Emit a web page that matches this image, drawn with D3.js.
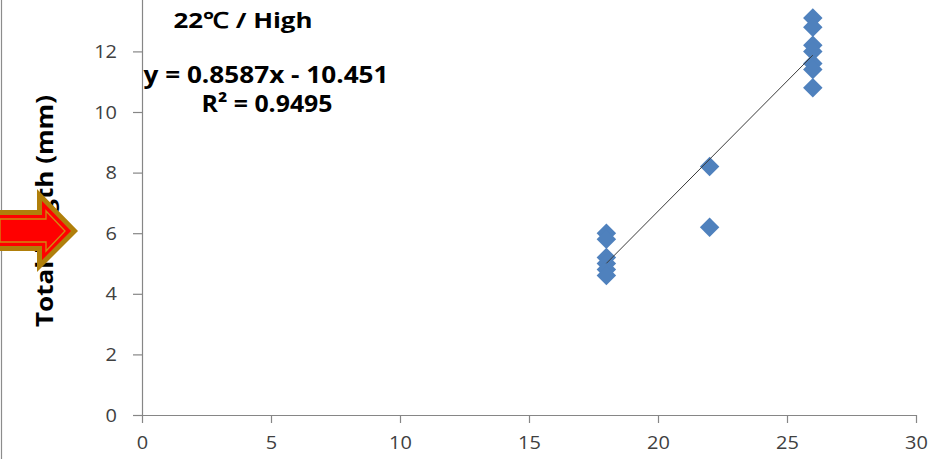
<!DOCTYPE html>
<html>
<head>
<meta charset="utf-8">
<script src="https://cdn.jsdelivr.net/npm/d3@7"></script>
<style>
  html, body { margin: 0; padding: 0; background: #fff; }
  svg { display: block; }
</style>
</head>
<body>
<svg id="chart" width="933" height="459"></svg>
<script>
// Rearing temperature (°C) and total length (mm) of each larva
const temps   = [18, 18, 18, 18, 18, 18, 22, 22, 26, 26, 26, 26, 26, 26, 26];
const lengths = [6.0, 5.8, 5.2, 5.0, 4.8, 4.6, 8.2, 6.2, 13.1, 12.8, 12.2, 12.0, 11.6, 11.4, 10.8];

// Linear trend line
const slope = 0.8587;
const intercept = -10.451;
const fitRange = [18, 26];

const xTicks = [0, 5, 10, 15, 20, 25, 30];
const yTicks = [0, 2, 4, 6, 8, 10, 12];

const titleText = "22℃ / High";
const eqText = "y = 0.8587x - 10.451";
const r2Text = "R² = 0.9495";
const yLabel = "Total length (mm)";

const svg = d3.select("#chart");
const W = 933, H = 459;

const x = d3.scaleLinear().domain([0, 30]).range([142, 916]);
const y = d3.scaleLinear().domain([0, 14]).range([415, -9.2]);

const axisColor = "#868686";
const tickColor = "#404040";
const FONT = "'Open Sans', 'Liberation Sans', Arial, sans-serif";

// stretch text horizontally (wide glyphs)
function widen(sel, k) {
  sel.each(function () {
    const w = this.getComputedTextLength();
    d3.select(this).attr("textLength", w * k).attr("lengthAdjust", "spacingAndGlyphs");
  });
}

// left frame edge
svg.append("line")
  .attr("x1", 1.5).attr("x2", 1.5).attr("y1", 0).attr("y2", H)
  .attr("stroke", "#8c8c8c").attr("stroke-width", 1.2);

// axes
const xAxis = d3.axisBottom(x).tickValues(xTicks).tickSize(8).tickPadding(13);
const yAxis = d3.axisLeft(y).tickValues(yTicks).tickSize(9).tickPadding(16);

const gx = svg.append("g").attr("transform", `translate(0,${y(0)})`).call(xAxis);
const gy = svg.append("g").attr("transform", `translate(${x(0)},0)`).call(yAxis);

[gx, gy].forEach(g => {
  g.select(".domain").attr("stroke", axisColor).attr("stroke-width", 1.2);
  g.selectAll(".tick line").attr("stroke", axisColor).attr("stroke-width", 1.2);
  g.selectAll(".tick text")
    .attr("fill", tickColor)
    .style("font-family", FONT)
    .style("font-size", "19px");
});
gx.select(".domain").attr("d", `M${x(0) - 9},0.5H${x(30)}`);
gx.selectAll(".tick text").attr("dy", "0.71em");
widen(gx.selectAll(".tick text"), 1.05);
widen(gy.selectAll(".tick text"), 1.05);

// y-axis title
svg.append("text")
  .attr("transform", `translate(53,211) rotate(-90)`)
  .attr("text-anchor", "middle")
  .style("font-family", FONT)
  .style("font-weight", "bold")
  .style("font-size", "24px")
  .attr("fill", "#000")
  .attr("textLength", 232)
  .attr("lengthAdjust", "spacingAndGlyphs")
  .text(yLabel);

// trend line
const fitLine = () => svg.append("line")
  .attr("x1", x(fitRange[0])).attr("y1", y(slope * fitRange[0] + intercept))
  .attr("x2", x(fitRange[1])).attr("y2", y(slope * fitRange[1] + intercept))
  .attr("stroke", "#3a3a3a").attr("stroke-width", 1);

// data points: Excel-style diamonds
const diamond = d3.symbol().type(d3.symbolSquare).size(190);
svg.append("g")
  .selectAll("path")
  .data(temps.map((t, i) => ({ t, v: lengths[i] })))
  .join("path")
  .attr("d", diamond)
  .attr("transform", d => `translate(${x(d.t)},${y(d.v)}) rotate(45)`)
  .attr("fill", "#4F81BD");

// trend line drawn over the markers
fitLine();

// title and regression annotation
const labels = [
  { t: titleText, cx: 243, by: 28, w: 139, fs: 22 },
  { t: eqText, cx: 266, by: 83, w: 245, fs: 23 },
  { t: r2Text, cx: 267, by: 112, w: 131, fs: 23 }
];
svg.append("g").selectAll("text")
  .data(labels)
  .join("text")
  .attr("x", d => d.cx)
  .attr("y", d => d.by)
  .attr("text-anchor", "middle")
  .style("font-family", FONT)
  .style("font-weight", "bold")
  .style("font-size", d => d.fs + "px")
  .attr("fill", "#000")
  .attr("textLength", d => d.w)
  .attr("lengthAdjust", "spacingAndGlyphs")
  .text(d => d.t);

// block arrow pointing at the axis
const arrow = svg.append("g");
arrow.append("polygon")
  .attr("points", "0,210 37,210 37,189 78,231 37,272 37,251 0,251")
  .attr("fill", "#B07F0A");
arrow.append("polygon")
  .attr("points", "0,215 42,215 42,201 71,231 42,260 42,246 0,246")
  .attr("fill", "#FF0000");
arrow.append("polygon")
  .attr("points", "0,219 46,219 46,211 65,231 46,251 46,242 0,242")
  .attr("fill", "none")
  .attr("stroke", "#D08A10")
  .attr("stroke-width", 1.3);
</script>
</body>
</html>
